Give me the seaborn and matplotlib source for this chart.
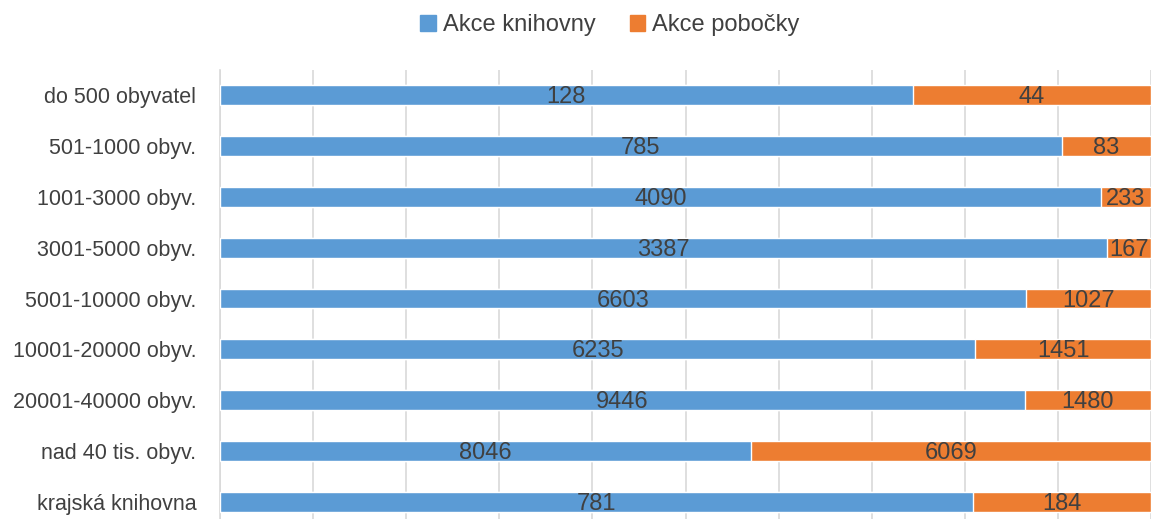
import matplotlib.pyplot as plt
import pandas as pd
import seaborn as sns
from matplotlib.patches import Patch

categories = ['do 500 obyvatel', '501-1000 obyv.', '1001-3000 obyv.', '3001-5000 obyv.',
              '5001-10000 obyv.', '10001-20000 obyv.', '20001-40000 obyv.',
              'nad 40 tis. obyv.', 'krajská knihovna']
akce_knihovny = [128, 785, 4090, 3387, 6603, 6235, 9446, 8046, 781]
akce_pobocky = [44, 83, 233, 167, 1027, 1451, 1480, 6069, 184]

sns.set_style('white')
plt.rcParams['font.family'] = ['Liberation Sans', 'DejaVu Sans']

df = pd.DataFrame({'cat': categories, 'kn': akce_knihovny, 'po': akce_pobocky})
df['total'] = df['kn'] + df['po']
df['kn_share'] = df['kn'] / df['total']
df['one'] = 1.0

blue = '#5B9BD5'
orange = '#ED7D31'
txt = '#404040'

fig = plt.figure(figsize=(11.51, 5.19), dpi=100)
ax = fig.add_axes([220 / 1151, -8 / 519, 931 / 1151, 457 / 519])

# orange full-width bars behind, blue share on top -> 100% stacked look
sns.barplot(data=df, x='one', y='cat', orient='h', color=orange, width=0.39,
            saturation=1, ax=ax, zorder=2)
sns.barplot(data=df, x='kn_share', y='cat', orient='h', color=blue, width=0.39,
            saturation=1, ax=ax, zorder=3)

for i, row in df.iterrows():
    ax.text(row['kn_share'] / 2, i + 0.04, f"{row['kn']}", ha='center', va='center',
            fontsize=17, color=txt, zorder=4)
    ax.text((1 + row['kn_share']) / 2, i + 0.04, f"{row['po']}", ha='center', va='center',
            fontsize=17, color=txt, zorder=4)

ax.set_xlim(0, 1)
ax.set_ylim(8.5, -0.5)
ax.set_xticks([i / 10 for i in range(11)])
ax.set_xticklabels([])
ax.grid(axis='x', color='#D9D9D9', linewidth=1.2, zorder=0)
ax.set_axisbelow(True)
for s in ['top', 'right', 'bottom']:
    ax.spines[s].set_visible(False)
ax.spines['left'].set_color('#D9D9D9')
ax.spines['left'].set_linewidth(1.2)
ax.tick_params(axis='both', length=0)
ax.tick_params(axis='y', labelsize=15.5, labelcolor=txt, pad=17)
ax.set_xlabel('')
ax.set_ylabel('')

handles = [Patch(color=blue, label='Akce knihovny'), Patch(color=orange, label='Akce pobočky')]
leg = fig.legend(handles=handles, loc='center', bbox_to_anchor=(610 / 1151, 1 - 25 / 519),
                 ncol=2, frameon=False, fontsize=17, handlelength=0.65, handleheight=0.65,
                 handletextpad=0.3, columnspacing=1.45)
for t in leg.get_texts():
    t.set_color(txt)

fig.savefig('out.png', dpi=100)
